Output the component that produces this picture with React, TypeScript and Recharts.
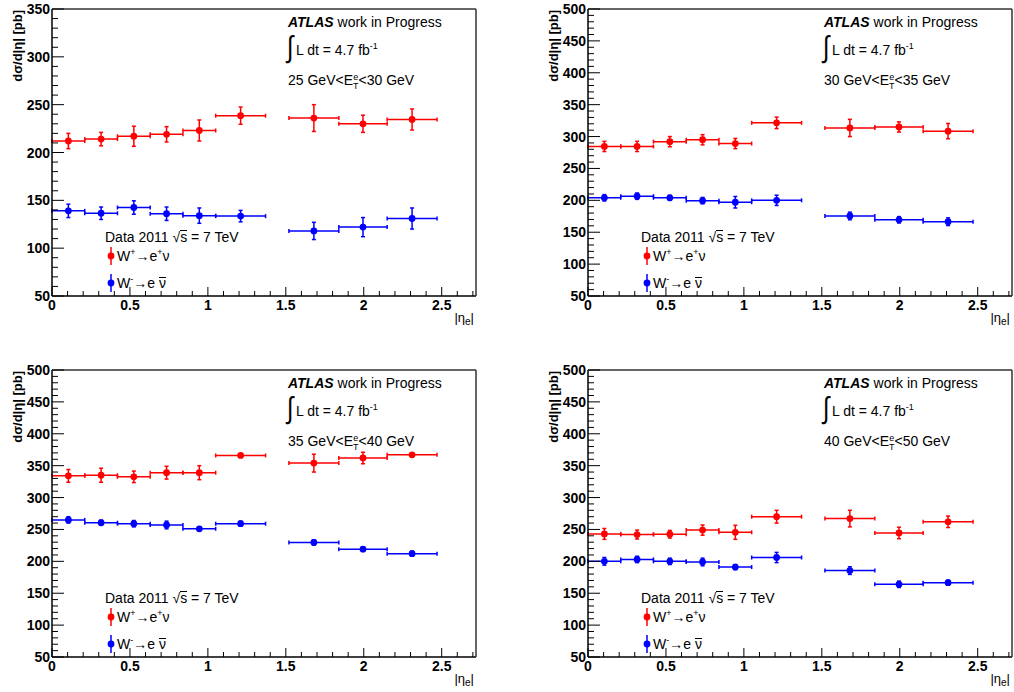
import React from 'react';
import { ScatterChart, Scatter, XAxis, YAxis, ErrorBar } from 'recharts';

// |eta_e| bins (crack region 1.37-1.52 excluded)
const etaLow = [0, 0.21, 0.42, 0.63, 0.84, 1.05, 1.52, 1.84, 2.15];
const etaHigh = [0.21, 0.42, 0.63, 0.84, 1.05, 1.37, 1.84, 2.15, 2.47];

// 25 GeV < ET < 30 GeV
const wPlus25 = [212, 214, 217, 219, 223, 238.5, 236, 230, 234.5];
const wPlus25Err = [8, 7, 10.5, 8, 11, 9, 14, 9, 11];
const wMinus25 = [139, 136.5, 142.5, 136, 134, 133.5, 118, 122, 131];
const wMinus25Err = [7, 6.5, 7, 7, 8, 6, 9, 10, 11];

// 30 GeV < ET < 35 GeV
const wPlus30 = [284.5, 284.5, 292, 295, 289, 321.5, 313.5, 315, 308.5];
const wPlus30Err = [8, 8, 8, 8, 8, 9, 13.5, 8, 12];
const wMinus30 = [204, 206.5, 204, 199.5, 197, 200, 175.5, 169.5, 166.5];
const wMinus30Err = [5, 5, 4, 5, 9, 8, 6, 5, 6];

// 35 GeV < ET < 40 GeV
const wPlus35 = [334, 335, 332.5, 339, 339, 366, 354, 362, 367];
const wPlus35Err = [10, 11, 9, 10, 11, 1.5, 14, 9, 1.5];
const wMinus35 = [265, 260.5, 259, 257, 251, 259, 229.5, 219, 212];
const wMinus35Err = [5, 4, 5, 6, 3, 4, 4, 3, 4];

// 40 GeV < ET < 50 GeV
const wPlus40 = [243, 242, 242.5, 249, 245.5, 270, 267, 244.5, 262];
const wPlus40Err = [8.5, 7, 6, 8, 11, 10, 13, 9, 9];
const wMinus40 = [200, 203, 200, 199, 191, 206, 185.5, 164, 166.5];
const wMinus40Err = [6, 5, 5, 6, 4, 8, 6, 5, 4];

const etCuts = [
  ['25', '30'],
  ['30', '35'],
  ['35', '40'],
  ['40', '50'],
];

const yMax = [350, 500, 500, 500];
const yMin = 50;
const xMax = 2.72;

const RED = '#ff0000';
const BLUE = '#0000ff';
const FONT = '"Liberation Sans", Arial, Helvetica, sans-serif';

const steps = (lo: number, hi: number, step: number) => {
  const out: number[] = [];
  const n = Math.round((hi - lo) / step);
  for (let i = 0; i <= n; i++) out.push(Math.round((lo + i * step) * 1000) / 1000);
  return out;
};

const xTicks = steps(0, 2.7, 0.1);

const toPoints = (vals: number[], errs: number[]) =>
  vals.map((v, i) => ({
    x: (etaLow[i] + etaHigh[i]) / 2,
    xerr: (etaHigh[i] - etaLow[i]) / 2,
    y: v,
    yerr: errs[i],
  }));

const panels = [
  { plus: toPoints(wPlus25, wPlus25Err), minus: toPoints(wMinus25, wMinus25Err) },
  { plus: toPoints(wPlus30, wPlus30Err), minus: toPoints(wMinus30, wMinus30Err) },
  { plus: toPoints(wPlus35, wPlus35Err), minus: toPoints(wMinus35, wMinus35Err) },
  { plus: toPoints(wPlus40, wPlus40Err), minus: toPoints(wMinus40, wMinus40Err) },
];

const tickText = { fontFamily: FONT, fontWeight: 'bold' as const, fontSize: 14, fill: '#000' };

function YTick(props: any) {
  const { x, y, payload } = props;
  const v = payload.value;
  const major = v % 50 === 0;
  return (
    <g>
      <line x1={x} x2={x + (major ? 12 : 6)} y1={y} y2={y} stroke="#000" strokeWidth={1} />
      {major && (
        <text x={x - 2} y={y} dy="0.36em" textAnchor="end" style={tickText}>
          {v}
        </text>
      )}
    </g>
  );
}

function XTick(props: any) {
  const { x, y, payload } = props;
  const v = payload.value;
  const major = Math.abs(v * 2 - Math.round(v * 2)) < 1e-6;
  return (
    <g>
      <line x1={x} x2={x} y1={y} y2={y - (major ? 9 : 5)} stroke="#000" strokeWidth={1} />
      {major && (
        <text x={x} y={y} dy={14} textAnchor="middle" style={tickText}>
          {String(v)}
        </text>
      )}
    </g>
  );
}

const dot = (color: string) => (p: any) => <circle cx={p.cx} cy={p.cy} r={3.4} fill={color} />;

const Sup = ({ children }: { children: React.ReactNode }) => (
  <span style={{ fontSize: 9, position: 'relative', top: -6 }}>{children}</span>
);

// letter with a bar sitting just above it (anti-neutrino, sqrt s)
const Bar = ({ children }: { children: React.ReactNode }) => (
  <span style={{ display: 'inline-block', borderTop: '1px solid #000', lineHeight: '10px' }}>{children}</span>
);

const LegendMark = ({ color }: { color: string }) => (
  <svg width={12} height={22} style={{ position: 'absolute', left: -6, top: -3 }}>
    <line x1={6} x2={6} y1={2} y2={20} stroke={color} strokeWidth={1.5} />
    <circle cx={6} cy={11} r={3.4} fill={color} />
  </svg>
);

const PLOT_W = 424;
const PLOT_H = 287;
// the 1px axis boxes (width/height 1) are counted on top of these margins
const M = { top: 8, right: 1, bottom: 49, left: 51 };
const PL = 52;
const PT = 9;
const CW = PL + PLOT_W + 2;
const CH = PT + PLOT_H + 50;

function Panel({ idx, left, top }: { idx: number; left: number; top: number }) {
  const d = panels[idx];
  const yt = steps(yMin, yMax[idx], 10);
  const txt: React.CSSProperties = {
    position: 'absolute',
    fontFamily: FONT,
    fontSize: 14,
    lineHeight: '16px',
    whiteSpace: 'nowrap',
    color: '#000',
  };
  return (
    <div style={{ position: 'absolute', left, top, width: CW, height: CH }}>
      <ScatterChart width={CW} height={CH} margin={M}>
        <XAxis
          type="number"
          dataKey="x"
          domain={[0, xMax]}
          ticks={xTicks}
          interval={0}
          allowDataOverflow
          height={1}
          tickSize={0}
          tickMargin={0}
          tickLine={false}
          tick={<XTick />}
          axisLine={{ stroke: '#000', strokeWidth: 1.5 }}
        />
        <YAxis
          type="number"
          dataKey="y"
          domain={[yMin, yMax[idx]]}
          ticks={yt}
          interval={0}
          allowDataOverflow
          width={1}
          tickSize={0}
          tickMargin={0}
          tickLine={false}
          tick={<YTick />}
          axisLine={{ stroke: '#000', strokeWidth: 1.5 }}
        />
        <XAxis xAxisId="top" orientation="top" type="number" domain={[0, 1]} height={1} tick={false} tickLine={false} axisLine={{ stroke: '#333', strokeWidth: 1.5 }} />
        <YAxis yAxisId="right" orientation="right" type="number" domain={[0, 1]} width={1} tick={false} tickLine={false} axisLine={{ stroke: '#333', strokeWidth: 1.5 }} />
        <Scatter data={d.plus} isAnimationActive={false} shape={dot(RED)}>
          <ErrorBar dataKey="xerr" direction="x" width={2} stroke={RED} strokeWidth={1.5} isAnimationActive={false} />
          <ErrorBar dataKey="yerr" direction="y" width={2} stroke={RED} strokeWidth={1.5} isAnimationActive={false} />
        </Scatter>
        <Scatter data={d.minus} isAnimationActive={false} shape={dot(BLUE)}>
          <ErrorBar dataKey="xerr" direction="x" width={2} stroke={BLUE} strokeWidth={1.5} isAnimationActive={false} />
          <ErrorBar dataKey="yerr" direction="y" width={2} stroke={BLUE} strokeWidth={1.5} isAnimationActive={false} />
        </Scatter>
      </ScatterChart>

      {/* y title */}
      <div
        style={{
          ...txt,
          fontSize: 13,
          fontWeight: 'bold',
          left: 10,
          top: 160,
          width: 150,
          textAlign: 'right',
          transformOrigin: 'top left',
          transform: 'rotate(-90deg)',
        }}
      >
        dσ/d|η| [pb]
      </div>
      {/* x title */}
      <div style={{ ...txt, fontSize: 13, left: PL + PLOT_W - 60, width: 58, textAlign: 'right', top: PT + PLOT_H + 14 }}>
        |η<span style={{ fontSize: 10, position: 'relative', top: 3 }}>e</span>|
      </div>

      {/* ATLAS block */}
      <div style={{ ...txt, left: PL + 236, top: PT + 5 }}>
        <b><i>ATLAS</i></b> work in Progress
      </div>
      <div style={{ ...txt, left: PL + 234, top: PT + 20, fontSize: 30, lineHeight: '36px', transform: 'scaleX(0.8)' }}>∫</div>
      <div style={{ ...txt, left: PL + 244, top: PT + 33 }}>
        L dt = 4.7 fb<Sup>-1</Sup>
      </div>
      <div style={{ ...txt, left: PL + 236, top: PT + 63 }}>
        {etCuts[idx][0]} GeV&lt;E
        <span
          style={{
            display: 'inline-flex',
            flexDirection: 'column',
            fontSize: 9,
            lineHeight: '9px',
            verticalAlign: 5,
            textAlign: 'center',
          }}
        >
          <span>e</span>
          <span>T</span>
        </span>
        &lt;{etCuts[idx][1]} GeV
      </div>

      {/* legend */}
      <div style={{ ...txt, left: PL + 53, top: PT + 220 }}>
        Data 2011 √<span style={{ display: 'inline-block', borderTop: '1px solid #000', lineHeight: '13px' }}>s</span> = 7 TeV
      </div>
      <div style={{ ...txt, left: PL + 59, top: PT + 239 }}>
        <LegendMark color={RED} />
        <span style={{ marginLeft: 6 }}>
          W<Sup>+</Sup>→e<Sup>+</Sup>ν
        </span>
      </div>
      <div style={{ ...txt, left: PL + 59, top: PT + 266 }}>
        <LegendMark color={BLUE} />
        <span style={{ marginLeft: 6 }}>
          W<Sup>-</Sup>→e <Bar>ν</Bar>
        </span>
      </div>
    </div>
  );
}

export default function App() {
  return (
    <div style={{ position: 'absolute', left: 0, top: 0, width: 1014, height: 692, background: '#fff', overflow: 'hidden' }}>
      <Panel idx={0} left={0} top={0} />
      <Panel idx={1} left={536} top={0} />
      <Panel idx={2} left={0} top={361} />
      <Panel idx={3} left={536} top={361} />
    </div>
  );
}
